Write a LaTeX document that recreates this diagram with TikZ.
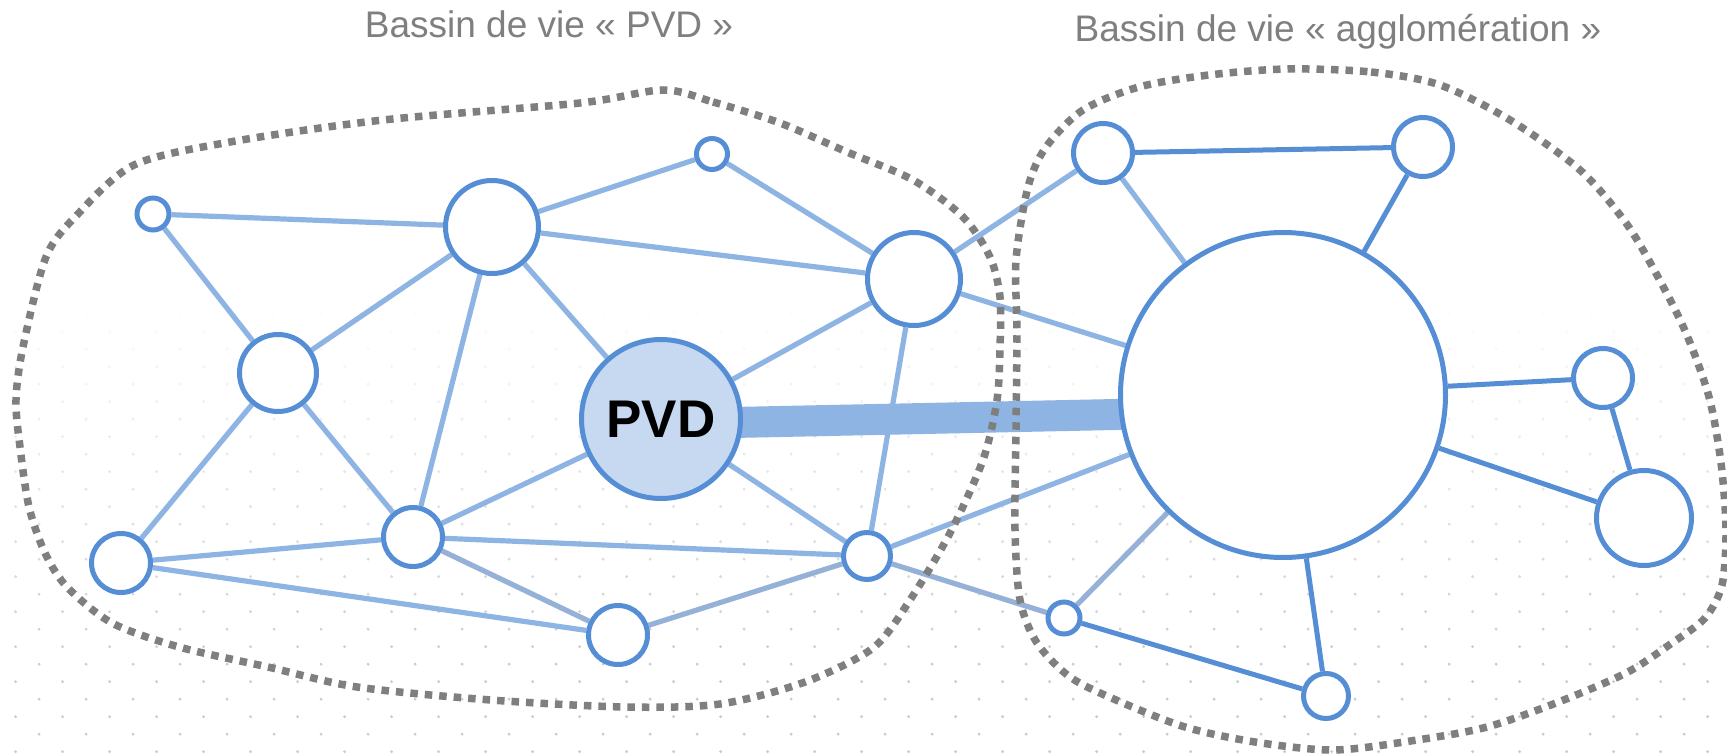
\documentclass[tikz,border=0pt]{standalone}
\usepackage{fontspec}
\setmainfont{Liberation Sans}
\usetikzlibrary{calc}

\definecolor{townblue}{HTML}{558ED5}
\definecolor{linkblue}{HTML}{8EB4E3}
\definecolor{linkgrey}{HTML}{95B1D8}
\definecolor{pvdfill}{HTML}{C6D9F1}
\definecolor{bassingrey}{HTML}{7F7F7F}

\pgfdeclarelayer{dots}
\pgfdeclarelayer{links}
\pgfsetlayers{dots,links,main}

\begin{document}
\begin{tikzpicture}[x=1pt, y=-1pt,
    town/.style={circle, draw=townblue, line width=5pt, fill=white, inner sep=0pt, minimum size=#1},
    link/.style={linkblue, line width=5.2pt},
    greylink/.style={linkgrey, line width=5.2pt},
    agglolink/.style={townblue, line width=5pt},
    trunk/.style={linkblue, line width=31pt},
    bassin/.style={draw=bassingrey, line width=7.5pt, dash pattern=on 7.5pt off 7pt},
    bassinlabel/.style={text=bassingrey, font=\fontsize{37}{44}\selectfont, anchor=base}]

    \useasboundingbox (0,0) rectangle (1727,754);

    % Background dots
    \begin{pgfonlayer}{dots}
    \fill[white] (0,0) rectangle (1727,754);
    \foreach \k in {-18,...,8} {
        \pgfmathsetmacro{\yy}{611.7+17.5*\k}
        \pgfmathsetmacro{\xo}{mod(\k+18,2)==0 ? 15.6 : 39.1}
        \pgfmathsetmacro{\op}{min(1,max(0,(\yy-290)/380))}
        \foreach \i in {0,...,36}
            \fill[black!20, opacity=\op] (\xo+47*\i,\yy) circle (1.6);
    }
    \end{pgfonlayer}

    % Bassin PVD
    \node[town=32] (l1) at (153,214) {};
    \node[town=93] (l2) at (492,227) {};
    \node[town=77] (l3) at (278,373) {};
    \node[town=31] (l4) at (712,154) {};
    \node[town=93] (l5) at (914,279) {};
    \node[town=59] (l6) at (413,537) {};
    \node[town=59] (l7) at (121,563) {};
    \node[town=59] (l8) at (618,635) {};
    \node[town=47] (l9) at (867,556) {};
    \node[town=159, fill=pvdfill, font=\bfseries\fontsize{53}{60}\selectfont] (pvd) at (661,419) {PVD};

    % Bassin agglomeration
    \node[town=325] (agglo) at (1283,395) {};
    \node[town=59] (r1) at (1103,153) {};
    \node[town=59] (r2) at (1423,147) {};
    \node[town=59] (r3) at (1603,378) {};
    \node[town=95] (r4) at (1644,518) {};
    \node[town=32] (r5) at (1064,618) {};
    \node[town=45] (r6) at (1326,696) {};

    % Links
    \begin{pgfonlayer}{links}
    \draw[link] (l1) -- (l2);
    \draw[link] (l1) -- (l3);
    \draw[link] (l2) -- (l4);
    \draw[link] (l2) -- (l5);
    \draw[link] (l2) -- (l3);
    \draw[link] (l2) -- (l6);
    \draw[link] (l2) -- (pvd);
    \draw[link] (l4) -- (l5);
    \draw[link] (l3) -- (l7);
    \draw[link] (l3) -- (l6);
    \draw[link] (l7) -- (l6);
    \draw[link] (l7) -- (l8);
    \draw[link] (l6) -- (l9);
    \draw[greylink] (l6) -- (l8);
    \draw[link] (l6) -- (pvd);
    \draw[link] (pvd) -- (l5);
    \draw[link] (pvd) -- (l9);
    \draw[link] (l5) -- (l9);
    \draw[greylink] (l9) -- (l8);
    \draw[link] (l5) -- (r1);
    \draw[link] (l5) -- (agglo);
    \draw[link] (l9) -- (agglo);
    \draw[greylink] (l9) -- (r5);
    \draw[link] (r1) -- (agglo);
    \draw[greylink] (r5) -- (agglo);
    \draw[trunk] ($(pvd)+(0,5)$) -- ($(agglo)+(0,16)$);
    \draw[agglolink] (r1) -- (r2);
    \draw[agglolink] (r2) -- (agglo);
    \draw[agglolink] (agglo) -- (r3);
    \draw[agglolink] (r3) -- (r4);
    \draw[agglolink] (agglo) -- (r4);
    \draw[agglolink] (agglo) -- (r6);
    \draw[agglolink] (r5) -- (r6);
    \end{pgfonlayer}

    % Boundaries
    \draw[bassin] plot[smooth cycle] coordinates {(663,90) (713,102) (780,123) (847,152) (913,180) (963,217) (990,257) (1000,297) (1000,347) (997,400) (983,460) (950,533) (910,600) (873,648) (805,682) (720,704) (625,707) (491,700) (357,687) (268,667) (179,647) (112,623) (67,587) (45,553) (29,507) (20,447) (16,400) (23,347) (46,257) (77,215) (134,165) (230,142) (383,120) (580,103)};
    \draw[bassin] plot[smooth cycle] coordinates {(1287,69) (1371,72) (1440,85) (1510,120) (1580,170) (1626,223) (1658,277) (1686,333) (1709,397) (1721,463) (1726,530) (1722,585) (1705,618) (1672,643) (1626,673) (1556,703) (1487,727) (1417,740) (1334,750) (1255,742) (1185,727) (1116,700) (1070,677) (1037,643) (1020,600) (1015,530) (1016,430) (1017,330) (1016,260) (1028,187) (1046,147) (1083,110) (1139,87) (1209,75)};

    % Labels
    \node[bassinlabel] (tpvd) at (549,38) {Bassin de vie « PVD »};
    \node[bassinlabel] (tagglo) at (1338,42) {Bassin de vie « agglomération »};
\end{tikzpicture}
\end{document}
